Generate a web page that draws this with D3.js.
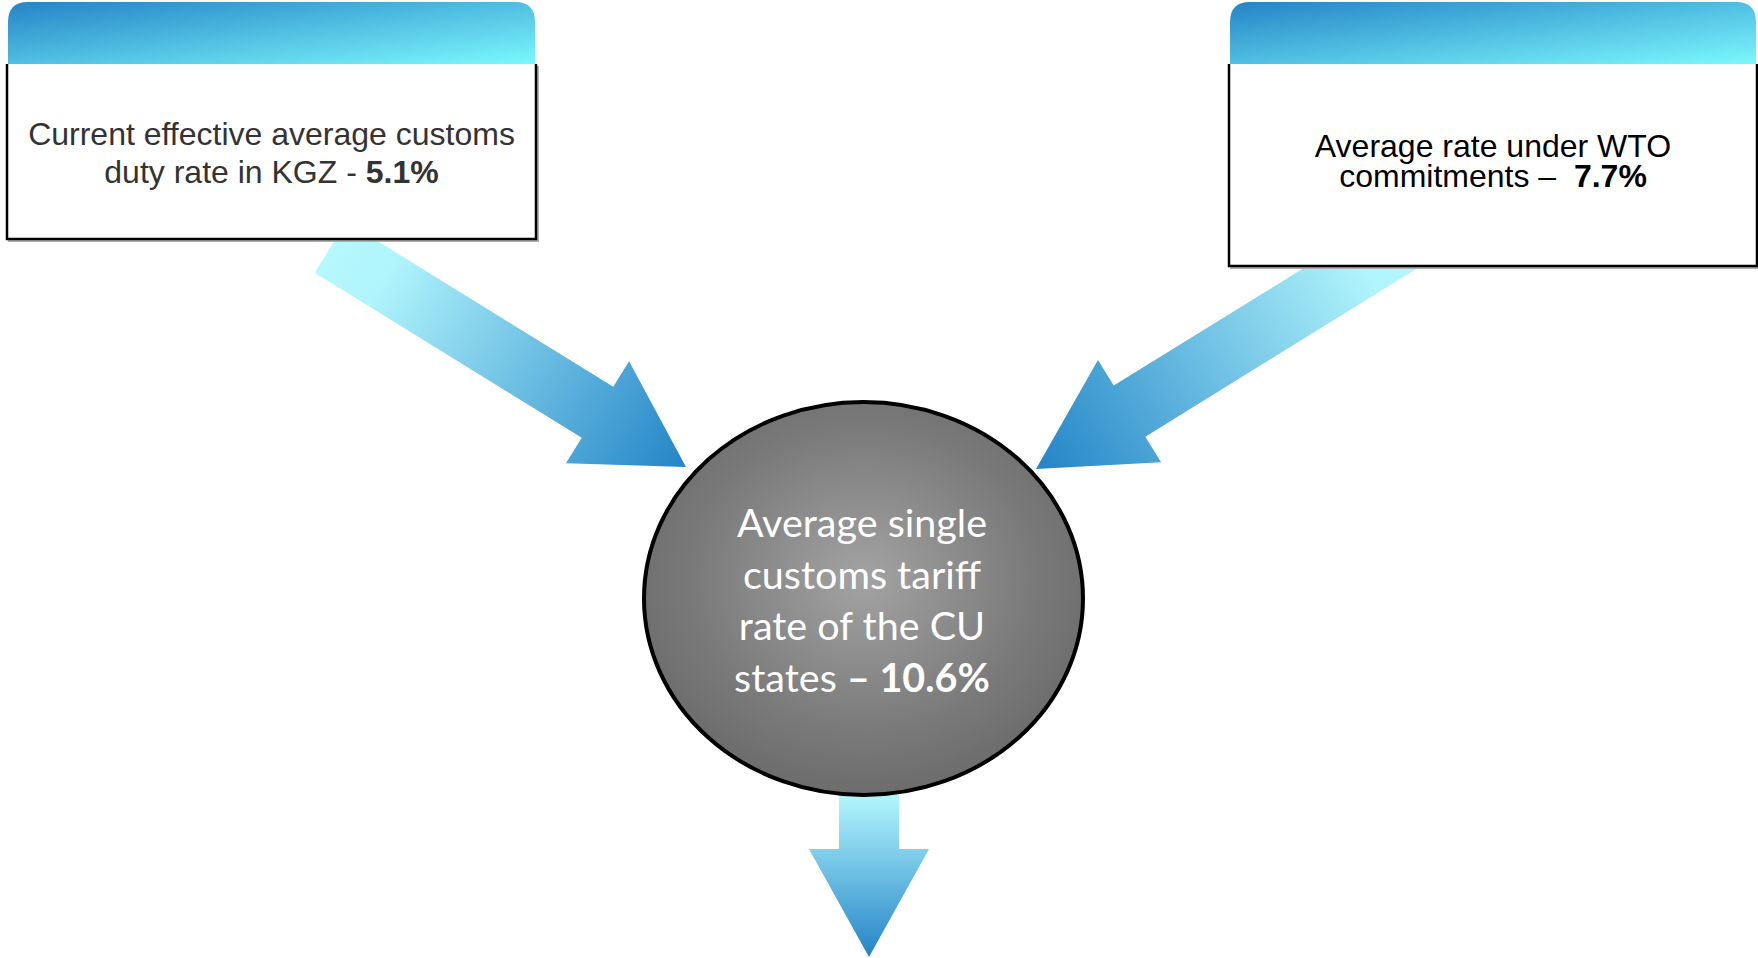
<html lang="en">
<head>
<meta charset="utf-8">
<script src="https://cdn.jsdelivr.net/npm/d3@7/dist/d3.min.js"></script>
<style>
  body { margin: 0; background: #fff; }
  .boxText { font-family: "Liberation Sans", Arial, sans-serif; font-size: 32px; text-anchor: middle; white-space: pre; }
  .circleText { font-family: Lato, "Open Sans", sans-serif; font-size: 39.5px; text-anchor: middle; fill: #fff; }
</style>
</head>
<body>
<div id="chart"></div>
<script>
// values shown in the diagram
var rates = [5.1, 7.7, 10.6];
var rateNames = ["KGZ effective", "WTO commitments", "CU single tariff"];

// text lines per node: [regular part, bold part]
var leftLines = [["Current effective average customs", ""], ["duty rate in KGZ - ", rates[0] + "%"]];
var rightLines = [["Average rate under WTO", ""], ["commitments \u2013  ", rates[1] + "%"]];
var centerLines = [["Average single", ""], ["customs tariff", ""], ["rate of the CU", ""], ["states ", "\u2013 " + rates[2] + "%"]];

var width = 1758, height = 958;

var svg = d3.select("#chart").append("svg")
    .attr("width", width)
    .attr("height", height);

var defs = svg.append("defs");

// header gradient
var hg = defs.append("linearGradient").attr("id", "headGrad")
    .attr("x1", 0).attr("y1", 0).attr("x2", 1).attr("y2", 1);
hg.append("stop").attr("offset", "0%").attr("stop-color", "#2584c6");
hg.append("stop").attr("offset", "100%").attr("stop-color", "#7bf8fd");

// ellipse gradient
var eg = defs.append("radialGradient").attr("id", "ellGrad")
    .attr("cx", "50%").attr("cy", "45%").attr("r", "55%");
eg.append("stop").attr("offset", "0%").attr("stop-color", "#a3a3a3");
eg.append("stop").attr("offset", "70%").attr("stop-color", "#7a7a7a");
eg.append("stop").attr("offset", "100%").attr("stop-color", "#6c6c6c");

// arrows: tail -> tip, shaft / head sizes
var arrows = [
  {id: "a1", tail: [330.5, 247.3], tip: [686, 467], shaft: 60, head: 120, headLen: 104},
  {id: "a2", tail: [1419, 232], tip: [1036, 469], shaft: 60, head: 120, headLen: 110},
  {id: "a3", tail: [869, 770], tip: [869, 957], shaft: 60, head: 120, headLen: 108}
];

function arrowPoints(a) {
  var dx = a.tip[0] - a.tail[0], dy = a.tip[1] - a.tail[1];
  var len = Math.sqrt(dx * dx + dy * dy);
  var ux = dx / len, uy = dy / len;   // along
  var nx = -uy, ny = ux;              // normal
  function p(along, off) {
    return [a.tail[0] + ux * along + nx * off, a.tail[1] + uy * along + ny * off];
  }
  var b = len - a.headLen;
  return [p(0, -a.shaft / 2), p(b, -a.shaft / 2), p(b, -a.head / 2), p(len, 0),
          p(b, a.head / 2), p(b, a.shaft / 2), p(0, a.shaft / 2)];
}

arrows.forEach(function(a) {
  var g = defs.append("linearGradient").attr("id", "grad" + a.id)
      .attr("gradientUnits", "userSpaceOnUse")
      .attr("x1", a.tail[0]).attr("y1", a.tail[1])
      .attr("x2", a.tip[0]).attr("y2", a.tip[1]);
  g.append("stop").attr("offset", "0%").attr("stop-color", "#b5f8fd");
  g.append("stop").attr("offset", "15%").attr("stop-color", "#b0f4fc");
  g.append("stop").attr("offset", "100%").attr("stop-color", "#2384c7");
});

var line = d3.line();

svg.append("g").selectAll("path")
  .data(arrows)
  .enter().append("path")
  .attr("d", function(d) { return line(arrowPoints(d)) + "Z"; })
  .style("fill", function(d) { return "url(#grad" + d.id + ")"; });

// boxes
var boxes = [
  {x0: 7, x1: 536, top: 2, headBottom: 64, bottom: 239, lines: leftLines, color: "#333333", base: 145, step: 38},
  {x0: 1229, x1: 1757, top: 2, headBottom: 64, bottom: 266, lines: rightLines, color: "#000000", base: 157, step: 30}
];

var bg = svg.append("g").selectAll("g")
  .data(boxes)
  .enter().append("g");

// shadow
bg.append("path")
  .attr("d", function(d) {
    return "M" + (d.x1 + 2) + "," + (d.headBottom + 2) + "V" + (d.bottom + 2) + "H" + (d.x0 + 1);
  })
  .style("fill", "none").style("stroke", "#b0b0b0").style("stroke-width", 2);

bg.append("path")
  .attr("d", function(d) {
    return "M" + d.x0 + "," + d.headBottom + "V" + d.bottom + "H" + d.x1 + "V" + d.headBottom + "Z";
  })
  .style("fill", "#fff").style("stroke", "none");

bg.append("path")
  .attr("d", function(d) {
    return "M" + d.x0 + "," + d.headBottom + "V" + d.bottom + "H" + d.x1 + "V" + d.headBottom;
  })
  .style("fill", "none").style("stroke", "#000").style("stroke-width", 2.5);

bg.append("path")
  .attr("d", function(d) {
    var r = 20, x0 = d.x0 + 1, x1 = d.x1 - 1;
    return "M" + x0 + "," + d.headBottom + "V" + (d.top + r) +
      "Q" + x0 + "," + d.top + " " + (x0 + r) + "," + d.top +
      "H" + (x1 - r) + "Q" + x1 + "," + d.top + " " + x1 + "," + (d.top + r) +
      "V" + d.headBottom + "Z";
  })
  .style("fill", "url(#headGrad)");

bg.each(function(d) {
  var t = d3.select(this).append("text")
    .attr("class", "boxText")
    .style("fill", d.color);
  d.lines.forEach(function(l, i) {
    var ts = t.append("tspan")
      .attr("x", (d.x0 + d.x1) / 2)
      .attr("y", d.base + i * d.step)
      .text(l[0]);
    if (l[1]) t.append("tspan").style("font-weight", "bold").text(l[1]);
  });
});

// center ellipse
svg.append("ellipse")
  .attr("cx", 863.5).attr("cy", 598.5)
  .attr("rx", 219.5).attr("ry", 196.5)
  .style("fill", "url(#ellGrad)")
  .style("stroke", "#000").style("stroke-width", 4);

var ct = svg.append("text").attr("class", "circleText");
centerLines.forEach(function(l, i) {
  ct.append("tspan")
    .attr("x", 862)
    .attr("y", 537 + i * 51.5)
    .text(l[0]);
  if (l[1]) ct.append("tspan").style("font-weight", "bold").text(l[1]);
});
</script>
</body>
</html>
